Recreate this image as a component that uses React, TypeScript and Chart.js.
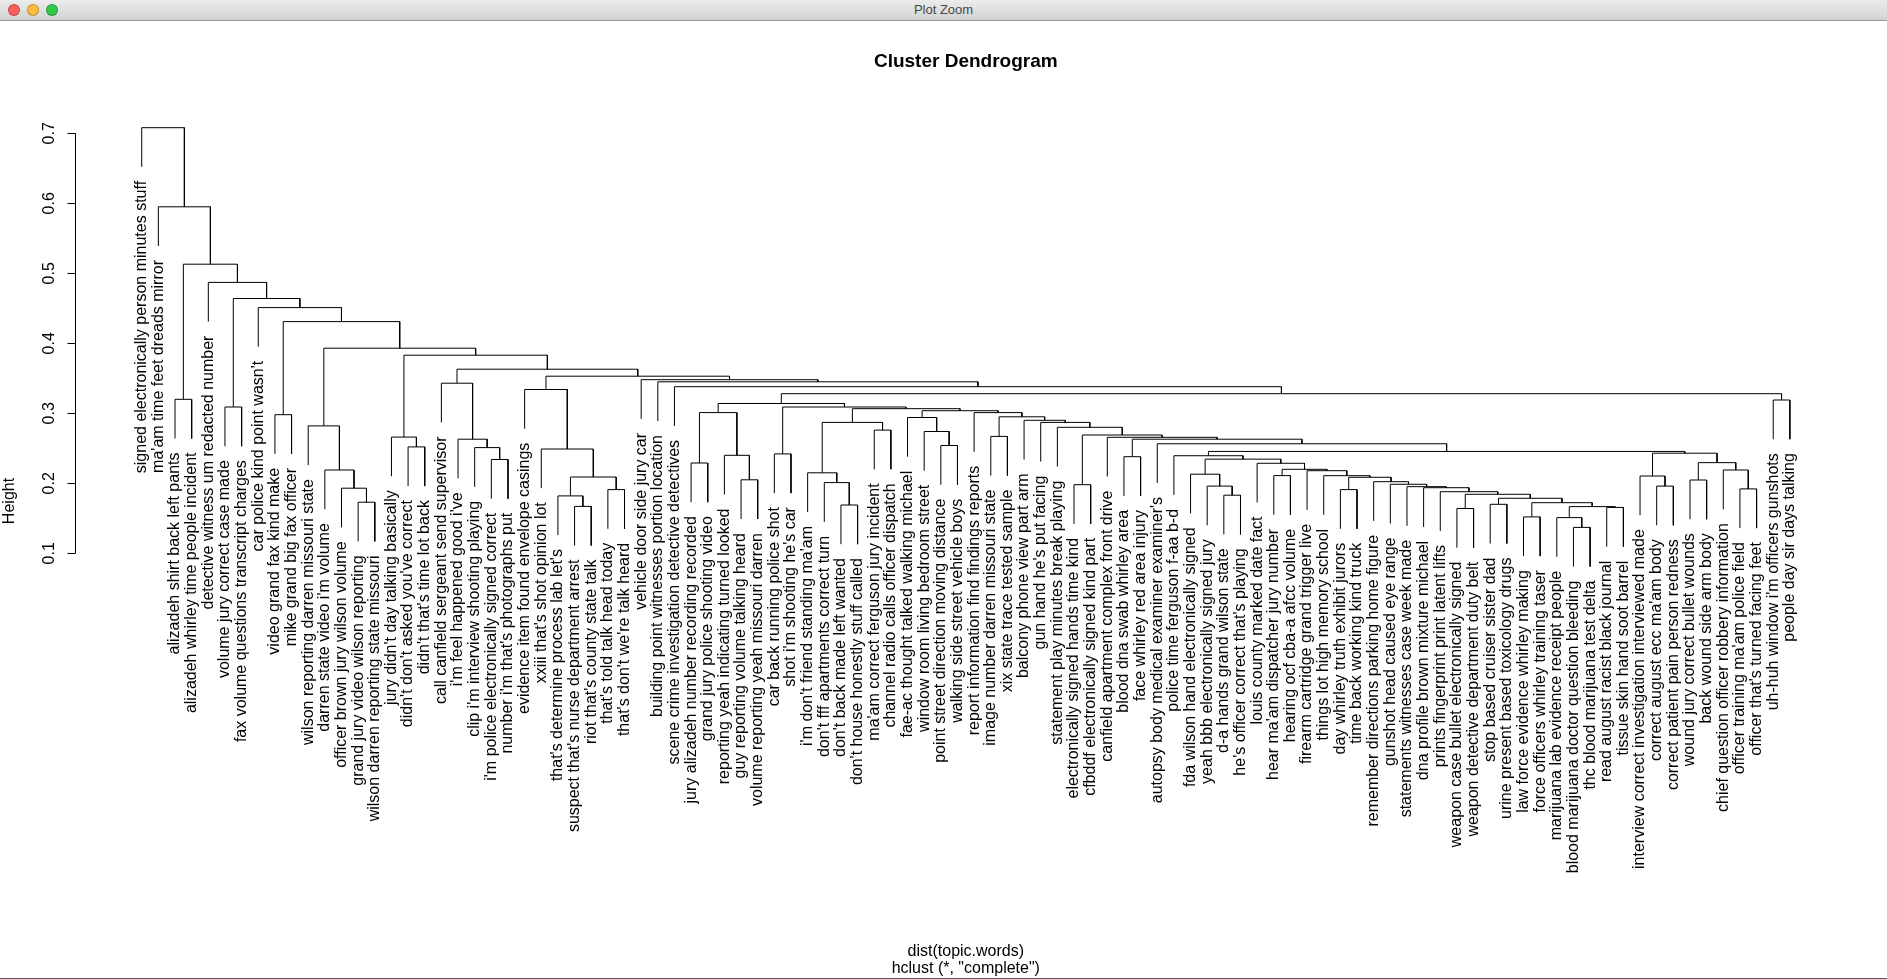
import React, { useEffect, useRef } from "react";
import { Chart, registerables } from "chart.js";

Chart.register(...registerables);

// Leaf labels, in the order they are drawn from left to right
const leafLabels: string[] = [
  "signed electronically person minutes stuff",
  "ma'am time feet dreads mirror",
  "alizadeh shirt back left pants",
  "alizadeh whirley time people incident",
  "detective witness um redacted number",
  "volume jury correct case made",
  "fax volume questions transcript charges",
  "car police kind point wasn't",
  "video grand fax kind make",
  "mike grand big fax officer",
  "wilson reporting darren missouri state",
  "darren state video i'm volume",
  "officer brown jury wilson volume",
  "grand jury video wilson reporting",
  "wilson darren reporting state missouri",
  "jury didn't day talking basically",
  "didn't don't asked you've correct",
  "didn't that's time lot back",
  "call canfield sergeant send supervisor",
  "i'm feel happened good i've",
  "clip i'm interview shooting playing",
  "i'm police electronically signed correct",
  "number i'm that's photographs put",
  "evidence item found envelope casings",
  "xxiii that's shot opinion lot",
  "that's determine process lab let's",
  "suspect that's nurse department arrest",
  "riot that's county state talk",
  "that's told talk head today",
  "that's don't we're talk heard",
  "vehicle door side jury car",
  "building point witnesses portion location",
  "scene crime investigation detective detectives",
  "jury alizadeh number recording recorded",
  "grand jury police shooting video",
  "reporting yeah indicating turned looked",
  "guy reporting volume talking heard",
  "volume reporting yeah missouri darren",
  "car back running police shot",
  "shot i'm shooting he's car",
  "i'm don't friend standing ma'am",
  "don't fff apartments correct turn",
  "don't back made left wanted",
  "don't house honestly stuff called",
  "ma'am correct ferguson jury incident",
  "channel radio calls officer dispatch",
  "fae-ac thought talked walking michael",
  "window room living bedroom street",
  "point street direction moving distance",
  "walking side street vehicle boys",
  "report information find findings reports",
  "image number darren missouri state",
  "xix state trace tested sample",
  "balcony phone view part arm",
  "gun hand he's put facing",
  "statement play minutes break playing",
  "electronically signed hands time kind",
  "cfbddf electronically signed kind part",
  "canfield apartment complex front drive",
  "blood dna swab whirley area",
  "face whirley red area injury",
  "autopsy body medical examiner examiner's",
  "police time ferguson f-aa b-d",
  "fda wilson hand electronically signed",
  "yeah bbb electronically signed jury",
  "d-a hands grand wilson state",
  "he's officer correct that's playing",
  "louis county marked date fact",
  "hear ma'am dispatcher jury number",
  "hearing ocf cba-a afcc volume",
  "firearm cartridge grand trigger live",
  "things lot high memory school",
  "day whirley truth exhibit jurors",
  "time back working kind truck",
  "remember directions parking home figure",
  "gunshot head caused eye range",
  "statements witnesses case week made",
  "dna profile brown mixture michael",
  "prints fingerprint print latent lifts",
  "weapon case bullet electronically signed",
  "weapon detective department duty belt",
  "stop based cruiser sister dad",
  "urine present based toxicology drugs",
  "law force evidence whirley making",
  "force officers whirley training taser",
  "marijuana lab evidence receipt people",
  "blood marijuana doctor question bleeding",
  "thc blood marijuana test delta",
  "read august racist black journal",
  "tissue skin hand soot barrel",
  "interview correct investigation interviewed made",
  "correct august ecc ma'am body",
  "correct patient pain person redness",
  "wound jury correct bullet wounds",
  "back wound side arm body",
  "chief question officer robbery information",
  "officer training ma'am police field",
  "officer that's turned facing feet",
  "uh-huh window i'm officers gunshots",
  "people day sir days talking",
];

// hclust-style merge list: negative = leaf (1-based position), positive = earlier merge (1-based)
const mergeLeft: number[] = [
  -14, -13, -12, -11, -17, -16, -22, -21, -20, -19,
  -27, -26, -29, 12, -25, -24, -34, -37, -36, 17,
  -39, -43, -42, -41, -45, 24, -49, -48, -47, -52,
  -57, -60, -66, -65, -64, -69, -73, -80, -82, -84,
  -87, -86, -89, 42, 40, 39, 38, -79, -78, -77,
  -76, -75, 37, -72, -71, 36, -68, 35, -63, -92,
  -91, -94, -97, -96, 62, 61, 59, -62, 32, -59,
  31, -56, -55, -54, 30, -51, 29, 26, 21, 20,
  -99, 80, -33, -32, -31, 16, 10, 6, 4, -9,
  90, -8, -6, 93, -5, -3, 96, -2, -1,
];
const mergeRight: number[] = [
  -15, 1, 2, 3, -18, 5, -23, 7, 8, 9,
  -28, 11, -30, 13, 14, 15, -35, -38, 18, 19,
  -40, -44, 22, 23, -46, 25, -50, 27, 28, -53,
  -58, -61, -67, 33, 34, -70, -74, -81, -83, -85,
  -88, 41, -90, 43, 44, 45, 46, 47, 48, 49,
  50, 51, 52, 53, 54, 55, 56, 57, 58, -93,
  60, -95, -98, 63, 64, 65, 66, 67, 68, 69,
  70, 71, 72, 73, 74, 75, 76, 77, 78, 79,
  -100, 81, 82, 83, 84, 85, 86, 87, 88, -10,
  89, 91, -7, 92, 94, -4, 95, 97, 98,
];
const mergeHeight: number[] = [
  0.173, 0.193, 0.219, 0.282, 0.252, 0.266, 0.234, 0.251, 0.263, 0.343,
  0.167, 0.182, 0.191, 0.209, 0.249, 0.334, 0.229, 0.205, 0.24, 0.301,
  0.242, 0.169, 0.201, 0.215, 0.276, 0.287, 0.254, 0.274, 0.294, 0.267,
  0.198, 0.238, 0.183, 0.196, 0.213, 0.211, 0.191, 0.164, 0.17, 0.152,
  0.137, 0.151, 0.1655, 0.1667, 0.1723, 0.1786, 0.1843, 0.188, 0.1937, 0.1952,
  0.1986, 0.2023, 0.2086, 0.2109, 0.218, 0.22, 0.2286, 0.2345, 0.2394, 0.196,
  0.2104, 0.2047, 0.192, 0.219, 0.2295, 0.243, 0.2455, 0.2565, 0.263, 0.2657,
  0.269, 0.28, 0.287, 0.29, 0.295, 0.301, 0.3037, 0.3066, 0.309, 0.314,
  0.319, 0.328, 0.338, 0.345, 0.348, 0.353, 0.363, 0.383, 0.393, 0.298,
  0.431, 0.451, 0.309, 0.464, 0.487, 0.32, 0.513, 0.595, 0.708,
];

const yTicks: number[] = [0.1, 0.2, 0.3, 0.4, 0.5, 0.6, 0.7];
const yTickLabels: string[] = ["0.1", "0.2", "0.3", "0.4", "0.5", "0.6", "0.7"];

const TITLE = "Cluster Dendrogram";
const X_LABEL = "dist(topic.words)";
const SUB_LABEL = 'hclust (*, "complete")';
const Y_LABEL = "Height";
const WINDOW_TITLE = "Plot Zoom";

const HANG = 0.056;
const FONT = '"Liberation Sans", Arial, Helvetica, sans-serif';

export default function App() {
  const ref = useRef<HTMLCanvasElement | null>(null);

  useEffect(() => {
    const canvas = ref.current;
    if (!canvas) return;
    const n = leafLabels.length;
    const mx: number[] = [];
    const leafParentH: number[] = new Array(n).fill(0);
    const xOf = (c: number) => (c < 0 ? -c : mx[c - 1]);
    const yOf = (c: number, h: number) => (c < 0 ? h - HANG : mergeHeight[c - 1]);

    const datasets = mergeLeft.map((l, i) => {
      const r = mergeRight[i];
      const h = mergeHeight[i];
      const xl = xOf(l);
      const xr = xOf(r);
      mx[i] = (xl + xr) / 2;
      if (l < 0) leafParentH[-l - 1] = h;
      if (r < 0) leafParentH[-r - 1] = h;
      return {
        data: [
          { x: xl, y: yOf(l, h) },
          { x: xl, y: h },
          { x: xr, y: h },
          { x: xr, y: yOf(r, h) },
        ],
        showLine: true,
        borderColor: "#000000",
        borderWidth: 1,
        pointRadius: 0,
        pointHoverRadius: 0,
        fill: false,
        tension: 0,
      };
    });

    const ext = 0.04 * (n - 1);

    const decor = {
      id: "dendroDecor",
      afterDraw(chart: any) {
        const ctx = chart.ctx as CanvasRenderingContext2D;
        const xs = chart.scales.x;
        const ys = chart.scales.y;
        const area = chart.chartArea;
        ctx.save();
        ctx.fillStyle = "#000";
        ctx.strokeStyle = "#000";
        ctx.lineWidth = 1;

        // leaf labels
        ctx.font = `16px ${FONT}`;
        ctx.textAlign = "right";
        ctx.textBaseline = "middle";
        leafLabels.forEach((t, i) => {
          const px = xs.getPixelForValue(i + 1);
          const py = ys.getPixelForValue(leafParentH[i] - HANG) + 14;
          ctx.save();
          ctx.translate(px, py);
          ctx.rotate(-Math.PI / 2);
          ctx.fillText(t, 0, 0);
          ctx.restore();
        });

        // y axis
        const axX = Math.round(area.left) - 0.5;
        ctx.beginPath();
        ctx.moveTo(axX, ys.getPixelForValue(yTicks[0]));
        ctx.lineTo(axX, ys.getPixelForValue(yTicks[yTicks.length - 1]));
        yTicks.forEach((v) => {
          const py = Math.round(ys.getPixelForValue(v)) + 0.5;
          ctx.moveTo(axX, py);
          ctx.lineTo(axX - 8, py);
        });
        ctx.stroke();
        ctx.textAlign = "center";
        ctx.textBaseline = "middle";
        yTicks.forEach((v, i) => {
          const py = ys.getPixelForValue(v);
          ctx.save();
          ctx.translate(axX - 26, py);
          ctx.rotate(-Math.PI / 2);
          ctx.fillText(yTickLabels[i], 0, 0);
          ctx.restore();
        });

        // axis titles
        ctx.save();
        ctx.translate(10, (area.top + area.bottom) / 2);
        ctx.rotate(-Math.PI / 2);
        ctx.fillText(Y_LABEL, 0, 0);
        ctx.restore();

        const cx = (area.left + area.right) / 2;
        ctx.fillText(X_LABEL, cx, 951.5);
        ctx.fillText(SUB_LABEL, cx, 968.5);

        ctx.font = `bold 19px ${FONT}`;
        ctx.fillText(TITLE, cx, 62);
        ctx.restore();
      },
    };

    const chart = new Chart(canvas, {
      type: "scatter",
      data: { datasets: datasets as any },
      options: {
        animation: false,
        responsive: false,
        maintainAspectRatio: false,
        events: [],
        layout: { padding: { left: 75.8, right: 31.2, top: 110, bottom: 87 } },
        plugins: {
          legend: { display: false },
          tooltip: { enabled: false },
          title: { display: false },
        },
        scales: {
          x: { type: "linear", min: 1 - ext, max: n + ext, display: false },
          y: { type: "linear", min: -0.38386, max: 0.73329, display: false },
        },
      },
      plugins: [decor],
    });
    return () => chart.destroy();
  }, []);

  return (
    <div
      style={{
        position: "fixed",
        left: 0,
        top: 0,
        width: 1887,
        height: 979,
        background: "#ffffff",
        overflow: "hidden",
      }}
    >
      <canvas
        ref={ref}
        width={1887}
        height={979}
        style={{ position: "absolute", left: 0, top: 0, width: 1887, height: 979, display: "block" }}
      />
      <div
        style={{
          position: "absolute",
          left: 0,
          top: 0,
          width: 1887,
          height: 20,
          background: "linear-gradient(#ececec, #d2d2d2)",
          borderBottom: "1px solid #9a9a9a",
          fontFamily: FONT,
          fontSize: 13,
          color: "#4a4a4a",
          textAlign: "center",
          lineHeight: "20px",
        }}
      >
        {[["#fc605c", 14], ["#fdbc40", 33], ["#34c84a", 52]].map(([c, x]) => (
          <span
            key={String(x)}
            style={{
              position: "absolute",
              left: (x as number) - 6,
              top: 4,
              width: 12,
              height: 12,
              borderRadius: 6,
              background: c as string,
              border: "1px solid rgba(0,0,0,0.25)",
              boxSizing: "border-box",
            }}
          />
        ))}
        {WINDOW_TITLE}
      </div>
      <div
        style={{ position: "absolute", left: 0, bottom: 0, width: 1887, height: 1, background: "#555" }}
      />
    </div>
  );
}
